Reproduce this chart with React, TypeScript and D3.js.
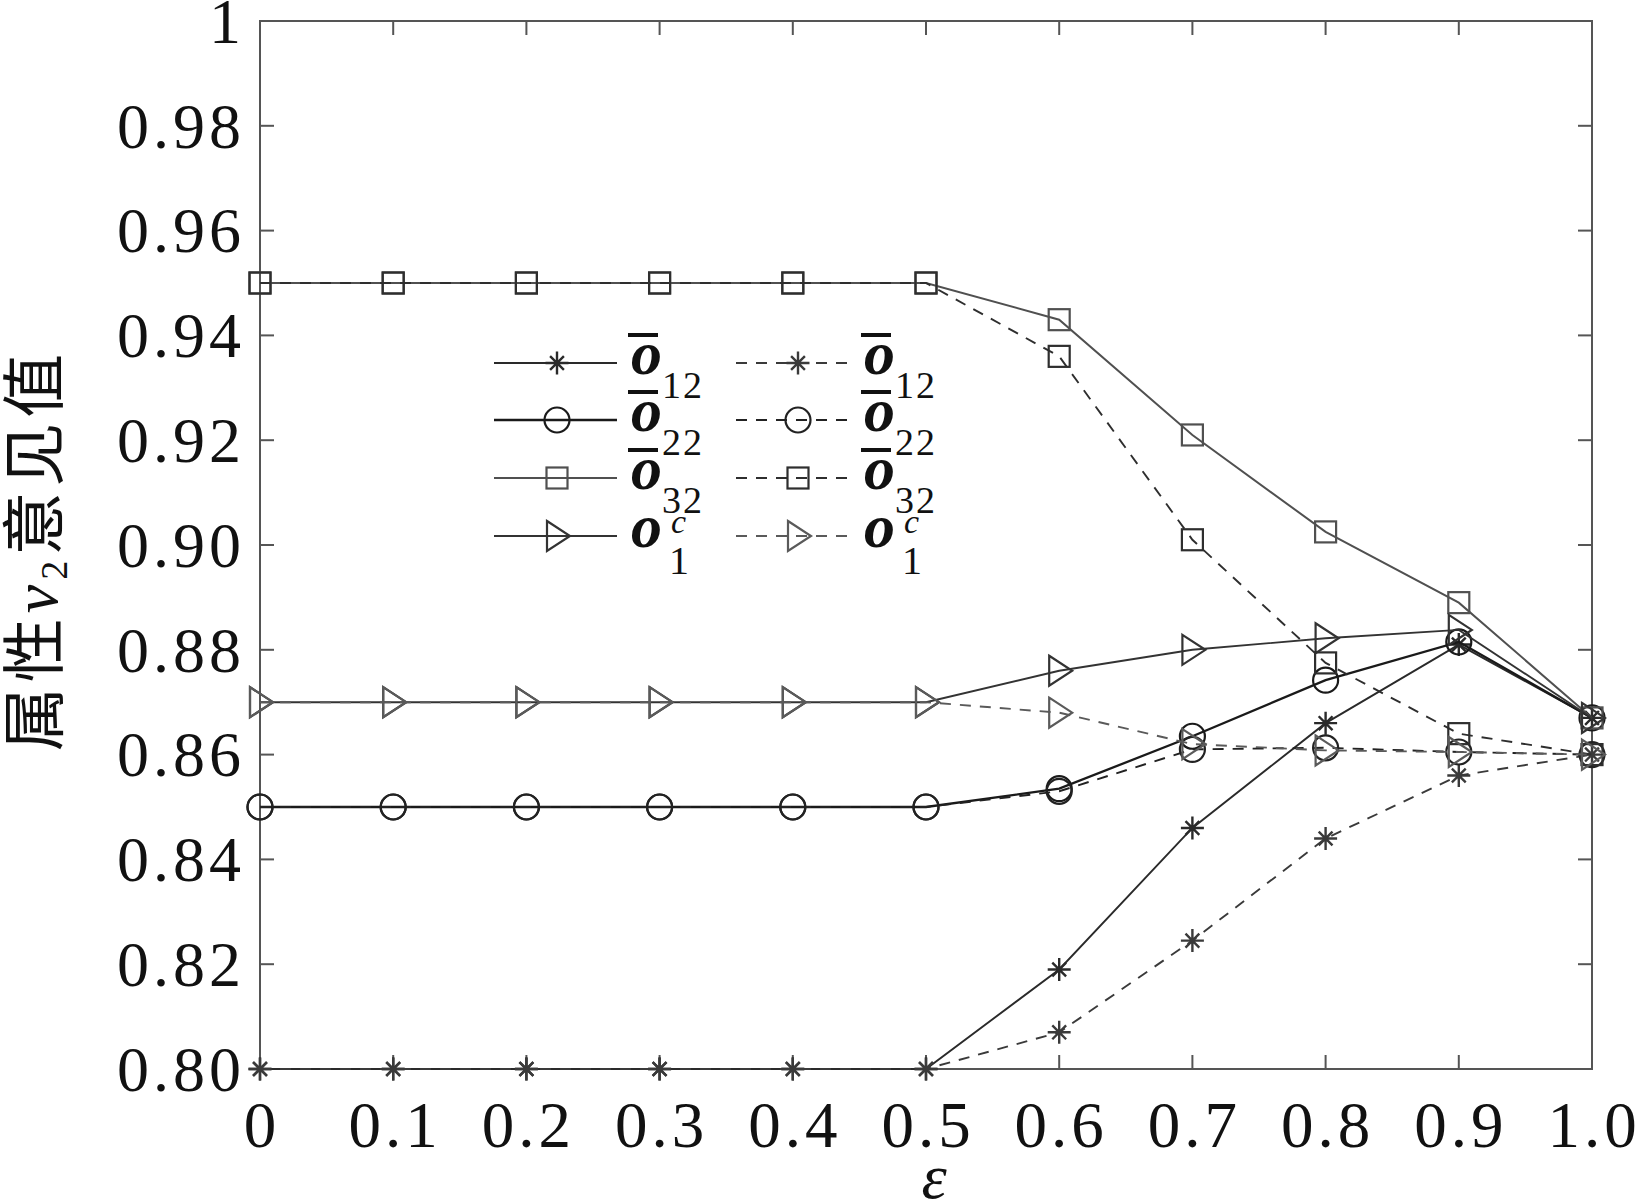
import React from "react";
import * as d3 from "d3";

const eps = [0, 0.1, 0.2, 0.3, 0.4, 0.5, 0.6, 0.7, 0.8, 0.9, 1.0];
const xTickLabels = ["0", "0.1", "0.2", "0.3", "0.4", "0.5", "0.6", "0.7", "0.8", "0.9", "1.0"];
const yTicks = [0.8, 0.82, 0.84, 0.86, 0.88, 0.9, 0.92, 0.94, 0.96, 0.98, 1.0];
const yTickLabels = ["0.80", "0.82", "0.84", "0.86", "0.88", "0.90", "0.92", "0.94", "0.96", "0.98", "1"];

const o12Solid = [0.8, 0.8, 0.8, 0.8, 0.8, 0.8, 0.819, 0.846, 0.866, 0.881, 0.867];
const o12Dashed = [0.8, 0.8, 0.8, 0.8, 0.8, 0.8, 0.807, 0.8245, 0.844, 0.856, 0.86];
const o22Solid = [0.85, 0.85, 0.85, 0.85, 0.85, 0.85, 0.8535, 0.8635, 0.8742, 0.8815, 0.867];
const o22Dashed = [0.85, 0.85, 0.85, 0.85, 0.85, 0.85, 0.853, 0.861, 0.8613, 0.8605, 0.86];
const o32Solid = [0.95, 0.95, 0.95, 0.95, 0.95, 0.95, 0.943, 0.921, 0.9025, 0.889, 0.867];
const o32Dashed = [0.95, 0.95, 0.95, 0.95, 0.95, 0.95, 0.936, 0.901, 0.8775, 0.864, 0.86];
const o1cSolid = [0.87, 0.87, 0.87, 0.87, 0.87, 0.87, 0.876, 0.88, 0.8822, 0.8838, 0.867];
const o1cDashed = [0.87, 0.87, 0.87, 0.87, 0.87, 0.87, 0.868, 0.862, 0.8608, 0.8605, 0.86];

type Marker = "star" | "circle" | "square" | "tri";
type Series = { values: number[]; marker: Marker; dashed: boolean; color: string; width: number; label: string; sub: string; sup?: string; bar: boolean };

const series: Series[] = [
  { values: o12Solid, marker: "star", dashed: false, color: "#2a2a2a", width: 1.9, label: "o", sub: "12", bar: true },
  { values: o22Solid, marker: "circle", dashed: false, color: "#1a1a1a", width: 2.3, label: "o", sub: "22", bar: true },
  { values: o32Solid, marker: "square", dashed: false, color: "#505050", width: 2, label: "o", sub: "32", bar: true },
  { values: o1cSolid, marker: "tri", dashed: false, color: "#333", width: 1.9, label: "o", sub: "1", sup: "c", bar: false },
  { values: o12Dashed, marker: "star", dashed: true, color: "#3a3a3a", width: 1.9, label: "o", sub: "12", bar: true },
  { values: o22Dashed, marker: "circle", dashed: true, color: "#222", width: 1.9, label: "o", sub: "22", bar: true },
  { values: o32Dashed, marker: "square", dashed: true, color: "#2e2e2e", width: 1.9, label: "o", sub: "32", bar: true },
  { values: o1cDashed, marker: "tri", dashed: true, color: "#5a5a5a", width: 1.9, label: "o", sub: "1", sup: "c", bar: false },
];

const W = 1640, H = 1200;
const L = 260, R = 1592, T = 21, B = 1069;
const x = d3.scaleLinear().domain([0, 1]).range([L, R]);
const y = d3.scaleLinear().domain([0.8, 1]).range([B, T]);

function markerEl(m: Marker, cx: number, cy: number, color: string, key: string) {
  const sw = 2.2;
  if (m === "circle") return <circle key={key} cx={cx} cy={cy} r={12.5} fill="none" stroke={color} strokeWidth={sw} />;
  if (m === "square") return <rect key={key} x={cx - 10.5} y={cy - 10.5} width={21} height={21} fill="none" stroke={color} strokeWidth={sw} />;
  if (m === "tri") {
    const p = d3.path();
    p.moveTo(cx - 10, cy - 15); p.lineTo(cx + 13, cy); p.lineTo(cx - 10, cy + 15); p.closePath();
    return <path key={key} d={p.toString()} fill="none" stroke={color} strokeWidth={sw} />;
  }
  const r = 11.5;
  const p = d3.path();
  for (let i = 0; i < 4; i++) {
    const a = (i * Math.PI) / 4;
    const rr = i % 2 === 0 ? r : r * 0.85;
    p.moveTo(cx - rr * Math.cos(a), cy - rr * Math.sin(a));
    p.lineTo(cx + rr * Math.cos(a), cy + rr * Math.sin(a));
  }
  return <path key={key} d={p.toString()} fill="none" stroke={color} strokeWidth={2.4} />;
}

export default function App() {
  const line = d3.line<number>().x((_, i) => x(eps[i])).y((v) => y(v));
  const serif = "'Liberation Serif', 'DejaVu Serif', serif";
  const legendRows = [363, 420, 478, 536];
  const legendCols = [
    { x0: 494, x1: 617, mx: 557, tx: 631 },
    { x0: 736, x1: 852, mx: 798, tx: 864 },
  ];
  return (
    <svg width={W} height={H} style={{ position: "absolute", left: 0, top: 0, background: "#fff" }}>
      <rect x={0} y={0} width={W} height={H} fill="#fff" />
      {/* axes box */}
      <rect x={L} y={T} width={R - L} height={B - T} fill="none" stroke="#555" strokeWidth={2} />
      {eps.map((t, i) => (
        <g key={"xt" + i}>
          <line x1={x(t)} x2={x(t)} y1={B} y2={B - 14} stroke="#555" strokeWidth={2} />
          <line x1={x(t)} x2={x(t)} y1={T} y2={T + 14} stroke="#555" strokeWidth={2} />
          <text x={x(t) + 2} y={1147} textAnchor="middle" fontFamily={serif} fontSize={65} letterSpacing={4} fill="#111">{xTickLabels[i]}</text>
        </g>
      ))}
      {yTicks.map((t, i) => (
        <g key={"yt" + i}>
          <line x1={L} x2={L + 14} y1={y(t)} y2={y(t)} stroke="#555" strokeWidth={2} />
          <line x1={R} x2={R - 14} y1={y(t)} y2={y(t)} stroke="#555" strokeWidth={2} />
          <text x={245} y={y(t)} dy="0.34em" textAnchor="end" fontFamily={serif} fontSize={64} letterSpacing={4} fill="#111">{yTickLabels[i]}</text>
        </g>
      ))}
      {/* series */}
      {series.map((s, si) => (
        <g key={"s" + si}>
          <path d={line(s.values) || ""} fill="none" stroke={s.color} strokeWidth={s.width} strokeDasharray={s.dashed ? "11,9" : undefined} />
          {s.values.map((v, i) => markerEl(s.marker, x(eps[i]), y(v), s.color, "m" + si + "-" + i))}
        </g>
      ))}
      {/* legend */}
      {series.map((s, si) => {
        const col = legendCols[Math.floor(si / 4)];
        const ry = legendRows[si % 4];
        return (
          <g key={"lg" + si}>
            <line x1={col.x0} x2={col.x1} y1={ry} y2={ry} stroke={s.color} strokeWidth={s.width} strokeDasharray={s.dashed ? "11,9" : undefined} />
            {markerEl(s.marker, col.mx, ry, s.color, "lm" + si)}
            {s.bar && <line x1={col.tx - 3} x2={col.tx + 27} y1={ry - 28} y2={ry - 28} stroke="#111" strokeWidth={4} />}
            <text x={col.tx} y={ry + 11} fontFamily={serif} fontStyle="italic" fontWeight="bold" fontSize={62} fill="#111">{s.label}</text>
            {s.sup ? (
              <>
                <text x={col.tx + 40} y={ry - 3} fontFamily={serif} fontStyle="italic" fontSize={34} fill="#111">{s.sup}</text>
                <text x={col.tx + 38} y={ry + 38} fontFamily={serif} fontSize={40} fill="#111">{s.sub}</text>
              </>
            ) : (
              <text x={col.tx + 31} y={ry + 35} fontFamily={serif} fontSize={38} letterSpacing={2} fill="#111">{s.sub}</text>
            )}
          </g>
        );
      })}
      {/* axis labels */}
      <text x={934} y={1198} textAnchor="middle" fontFamily={serif} fontStyle="italic" fontSize={64} fill="#111">ε</text>
      <text transform="translate(57,550) rotate(-90)" textAnchor="middle" fontFamily="'Noto Sans CJK SC', sans-serif" fontSize={64} fill="#111" letterSpacing={5}>
        属性<tspan fontFamily={serif} fontStyle="italic">v</tspan><tspan fontFamily={serif} fontSize={38} dy={10}>2</tspan><tspan dy={-10}>意见值</tspan>
      </text>
    </svg>
  );
}
